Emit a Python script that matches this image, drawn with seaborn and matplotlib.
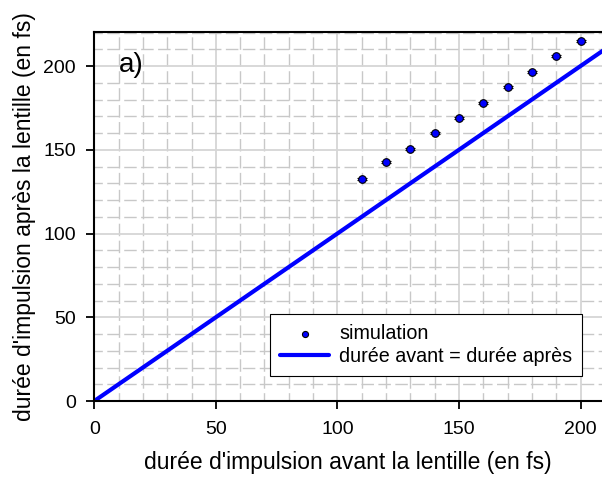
import numpy as np
import pandas as pd
import matplotlib
matplotlib.use("Agg")
import matplotlib.pyplot as plt
import seaborn as sns
from matplotlib.ticker import MultipleLocator

# values
duree_avant = [110, 120, 130, 140, 150, 160, 170, 180, 190, 200]
duree_apres = [132.5, 142.6, 150.6, 160.0, 169.1, 178.1, 187.5, 196.6, 206.1, 215.1]
erreur = [0.6] * 10
ligne_x = [0, 220]
ligne_y = [0, 220]

df = pd.DataFrame({"avant": duree_avant, "apres": duree_apres})
df_ligne = pd.DataFrame({"x": ligne_x, "y": ligne_y})

sns.set_style("white")
plt.rcParams['font.family'] = ['Liberation Sans', 'DejaVu Sans']
plt.rcParams['text.color'] = 'black'
plt.rcParams['axes.labelcolor'] = 'black'
plt.rcParams['xtick.color'] = 'black'
plt.rcParams['ytick.color'] = 'black'

fig = plt.figure(figsize=(6.02, 4.82), dpi=100)
ax = fig.add_axes([0.1566, 0.168, 0.8434, 0.7656])

ax.xaxis.set_major_locator(MultipleLocator(50))
ax.yaxis.set_major_locator(MultipleLocator(50))
ax.xaxis.set_minor_locator(MultipleLocator(10))
ax.yaxis.set_minor_locator(MultipleLocator(10))
ax.grid(which='major', color='#d6d6d6', linewidth=1.3, linestyle='-')
ax.grid(which='minor', color='#c8c8c8', linewidth=1.0, linestyle=(3, (9, 3.2)))
ax.set_axisbelow(True)

sns.lineplot(data=df_ligne, x="x", y="y", ax=ax, color='#0000ff', linewidth=3,
             label="durée avant = durée après", zorder=2)
ax.errorbar(duree_avant, duree_apres, yerr=erreur, fmt='none', ecolor='black',
            elinewidth=0.8, capsize=3.6, capthick=0.8, zorder=3)
sns.scatterplot(data=df, x="avant", y="apres", ax=ax, color='#0000ff', s=30,
                edgecolor='black', linewidth=0.8, label="simulation", zorder=4)

ax.set_xlim(0, 208.8)
ax.set_ylim(0, 220.3)
ax.set_xlabel("durée d'impulsion avant la lentille (en fs)", fontsize=16.5, labelpad=9.5)
ax.set_ylabel("durée d'impulsion après la lentille (en fs)", fontsize=16.5, labelpad=5)
ax.tick_params(axis='both', which='major', labelsize=14, length=6, width=1.3,
               direction='out', bottom=True, left=True, color='black',
               labelcolor='black')
ax.tick_params(axis='x', pad=8.6)
ax.tick_params(axis='y', pad=7.2)
ax.tick_params(which='minor', length=0)

for s in ['left', 'bottom', 'top']:
    ax.spines[s].set_color('black')
    ax.spines[s].set_linewidth(1.5)
ax.spines['right'].set_visible(False)

ax.text(10.3, 196.4, "a)", fontsize=20, ha='left', va='baseline', color='black')

handles, labels = ax.get_legend_handles_labels()
order = [labels.index("simulation"), labels.index("durée avant = durée après")]
leg = ax.legend([handles[i] for i in order], [labels[i] for i in order],
                loc='lower right', bbox_to_anchor=(0.961, 0.068), borderaxespad=0,
                fontsize=14.2, frameon=True, fancybox=False, edgecolor='black',
                framealpha=1, handlelength=2.5, handletextpad=0.5, borderpad=0.5,
                labelspacing=0.2, markerscale=0.8)
leg.get_frame().set_linewidth(0.8)
for t in leg.get_texts():
    t.set_color('black')

fig.savefig("out.png", dpi=100)
